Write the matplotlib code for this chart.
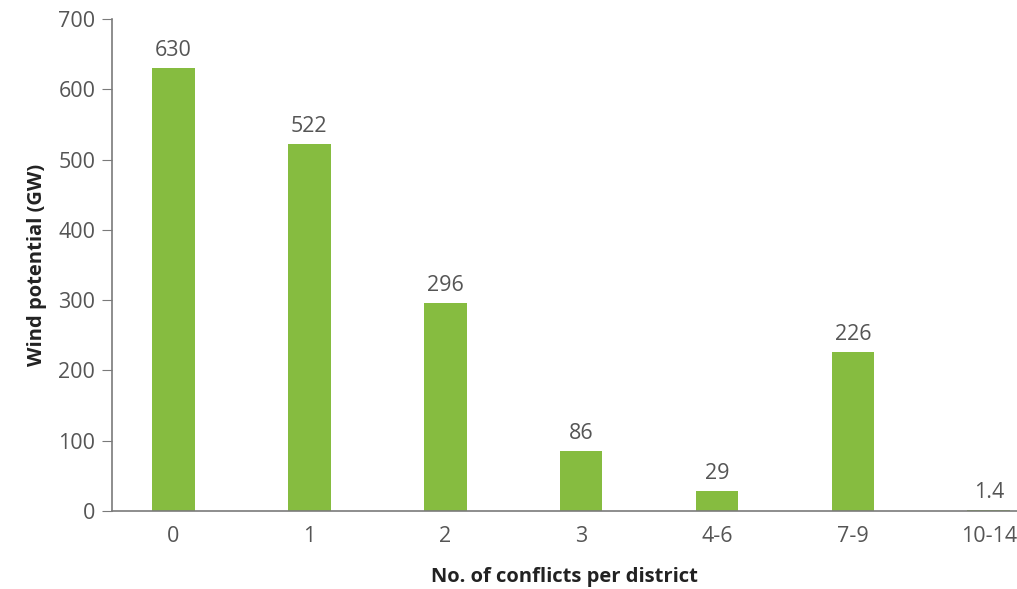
import matplotlib
matplotlib.use("Agg")
from matplotlib import pyplot as plt

categories = ["0", "1", "2", "3", "4-6", "7-9", "10-14"]
values = [630, 522, 296, 86, 29, 226, 1.4]
value_labels = ["630", "522", "296", "86", "29", "226", "1.4"]

GREEN = "#86bc40"
TEXT = "#555555"
AXIS = "#7a7a7a"

plt.rcParams["font.family"] = ["Open Sans", "DejaVu Sans"]

fig = plt.figure(figsize=(10.17, 5.89), dpi=100)
ax = fig.add_axes([0.1101, 0.1324, 0.8899, 0.8353])

x = range(len(categories))
bars = ax.bar(x, values, width=0.316, color=GREEN)

for xi, v, lab in zip(x, values, value_labels):
    ax.annotate(lab, (xi, v), xytext=(0, 5), textcoords="offset points",
                ha="center", va="bottom", fontsize=15.5, color=TEXT)

ax.set_xlim(-0.449, 6.206)
ax.set_ylim(0, 700)
ax.set_yticks(range(0, 701, 100))
ax.set_xticks(list(x))
ax.set_xticklabels(categories)

ax.spines["top"].set_visible(False)
ax.spines["right"].set_visible(False)
ax.spines["left"].set_color(AXIS)
ax.spines["bottom"].set_color(AXIS)
ax.spines["left"].set_linewidth(1.2)
ax.spines["bottom"].set_linewidth(1.2)

ax.tick_params(axis="y", length=7, color=AXIS, labelsize=15.5, labelcolor=TEXT, pad=5)
ax.tick_params(axis="x", length=0, labelsize=15.5, labelcolor=TEXT, pad=11)

ax.set_ylabel("Wind potential (GW)", fontsize=14.5, fontweight="bold", color="#222222", labelpad=8)
ax.set_xlabel("No. of conflicts per district", fontsize=14.5, fontweight="bold", color="#222222", labelpad=14)

fig.savefig("out.png", dpi=100)
